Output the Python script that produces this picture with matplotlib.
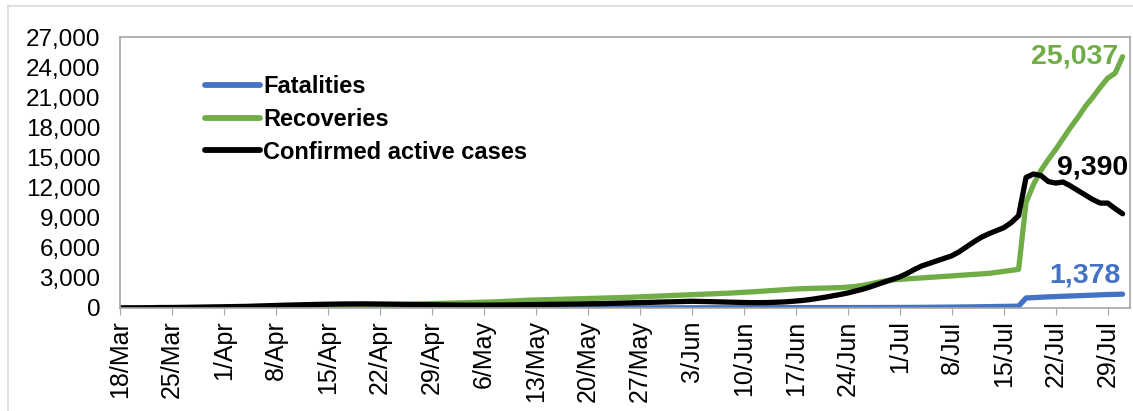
#%%
import matplotlib.pyplot as plt
import numpy as np
from matplotlib.lines import Line2D

plt.rcParams['font.family'] = ['Liberation Sans', 'DejaVu Sans']

#%% Daily values, 18/Mar .. 31/Jul (one row per week)

fatalities = [
    0, 0, 0, 0, 0, 0, 0,
    0, 0, 0, 0, 0, 0, 1,
    1, 1, 1, 3, 3, 4, 4,
    4, 5, 5, 5, 5, 5, 5,
    5, 5, 5, 7, 7, 7, 7,
    7, 7, 7, 7, 8, 8, 8,
    8, 8, 8, 8, 8, 8, 8,
    10, 10, 10, 12, 12, 12, 12,
    12, 12, 13, 14, 14, 14, 14,
    14, 14, 14, 14, 15, 16, 16,
    16, 16, 16, 17, 18, 20, 20,
    20, 21, 22, 23, 24, 25, 26,
    27, 28, 29, 30, 31, 33, 35,
    36, 37, 38, 39, 40, 41, 42,
    43, 44, 45, 46, 47, 48, 49,
    51, 55, 60, 65, 70, 75, 82,
    90, 98, 105, 115, 125, 135, 145,
    155, 165, 180, 1000, 1040, 1080, 1110,
    1140, 1170, 1200, 1230, 1260, 1290, 1310,
    1340, 1360, 1378,
]

recoveries = [
    0, 0, 0, 0, 0, 0, 0,
    0, 0, 0, 0, 3, 3, 3,
    5, 7, 10, 14, 18, 24, 30,
    38, 48, 60, 75, 92, 110, 130,
    150, 170, 190, 210, 230, 250, 270,
    290, 310, 330, 350, 370, 390, 410,
    430, 450, 470, 490, 510, 530, 550,
    570, 600, 630, 660, 700, 740, 780,
    800, 820, 840, 860, 880, 900, 920,
    940, 960, 980, 1000, 1020, 1050, 1080,
    1100, 1130, 1160, 1190, 1220, 1250, 1280,
    1310, 1340, 1370, 1400, 1440, 1480, 1520,
    1560, 1600, 1650, 1700, 1750, 1800, 1850,
    1900, 1930, 1950, 1970, 1990, 2010, 2030,
    2080, 2150, 2250, 2400, 2550, 2700, 2800,
    2850, 2900, 2950, 3000, 3050, 3100, 3150,
    3200, 3250, 3300, 3350, 3400, 3450, 3550,
    3650, 3750, 3850, 10500, 12300, 13700, 14800,
    15800, 16900, 18000, 19000, 20100, 21000, 22000,
    22900, 23400, 25037,
]

active = [
    3, 6, 14, 16, 26, 42, 44,
    44, 58, 64, 80, 90, 105, 107,
    110, 125, 140, 160, 185, 210, 235,
    255, 275, 295, 315, 335, 350, 365,
    380, 390, 400, 405, 410, 410, 405,
    400, 390, 380, 365, 350, 340, 330,
    320, 310, 300, 295, 290, 285, 280,
    280, 285, 290, 300, 310, 320, 330,
    340, 350, 360, 370, 380, 390, 400,
    410, 420, 440, 460, 480, 500, 520,
    540, 560, 580, 600, 620, 640, 660,
    670, 660, 640, 620, 600, 580, 560,
    540, 530, 530, 540, 560, 590, 630,
    690, 760, 850, 960, 1080, 1210, 1350,
    1500, 1680, 1870, 2100, 2350, 2600, 2850,
    3100, 3450, 3850, 4200, 4450, 4700, 4950,
    5200, 5600, 6100, 6600, 7050, 7400, 7700,
    8000, 8500, 9200, 13000, 13350, 13200, 12600,
    12450, 12550, 12150, 11700, 11250, 10800, 10450,
    10450, 9900, 9390,
]

week_labels = ['18/Mar', '25/Mar', '1/Apr', '8/Apr', '15/Apr', '22/Apr', '29/Apr',
               '6/May', '13/May', '20/May', '27/May', '3/Jun', '10/Jun', '17/Jun',
               '24/Jun', '1/Jul', '8/Jul', '15/Jul', '22/Jul', '29/Jul']

series_names = ['Fatalities', 'Recoveries', 'Confirmed active cases']

#%% Figure

c_blue = '#4472C4'
c_green = '#70AD47'
c_black = '#000000'
c_axis = '#A6A6A6'

days = np.arange(len(active))

fig = plt.figure(figsize=(11.33, 4.11), dpi=100)
ax = fig.add_axes([120/1133, 103/411, 1010/1133, 271/411])

lw = 3.8
ax.plot(days, fatalities, color=c_blue, lw=lw, label=series_names[0], solid_capstyle='round')
ax.plot(days, recoveries, color=c_green, lw=lw, label=series_names[1], solid_capstyle='round')
ax.plot(days, active, color=c_black, lw=lw, label=series_names[2], solid_capstyle='round')

ax.set_xlim(0, 136)
ax.set_ylim(0, 27000)

ax.set_xticks(np.arange(0, len(week_labels)*7, 7))
ax.set_xticklabels(week_labels, rotation=90, fontsize=18)
ax.set_yticks(np.arange(0, 27001, 3000))
ax.set_yticklabels([f'{v:,}' for v in range(0, 27001, 3000)], fontsize=17.5)

ax.tick_params(axis='x', length=5, color=c_axis, pad=4)
ax.tick_params(axis='y', length=0, pad=14)
for s in ax.spines.values():
    s.set_color(c_axis)
    s.set_linewidth(1.2)

# end-of-series labels
ax.annotate(f'{recoveries[-1]:,}', (days[-1], recoveries[-1]), xytext=(-4, 0),
            textcoords='offset pixels', ha='right', va='center',
            fontsize=20.5, fontweight='bold', color=c_green)
ax.annotate(f'{active[-1]:,}', (days[-1], active[-1]), xytext=(6, 46),
            textcoords='offset pixels', ha='right', va='center',
            fontsize=20.5, fontweight='bold', color=c_black)
ax.annotate(f'{fatalities[-1]:,}', (days[-1], fatalities[-1]), xytext=(-2, 19),
            textcoords='offset pixels', ha='right', va='center',
            fontsize=20.5, fontweight='bold', color=c_blue)

leg = ax.legend(loc='upper left', bbox_to_anchor=(0.075, 0.895), frameon=False,
                prop={'size': 17, 'weight': 'bold'}, handlelength=2.3,
                handletextpad=0.15, labelspacing=0.42, borderaxespad=0)
for h in leg.get_lines():
    h.set_linewidth(4.2)

# outer chart frame
fig.add_artist(Line2D([8/1133, 8/1133], [0, 1 - 6/411], color='#D9D9D9', lw=1.2))
fig.add_artist(Line2D([8/1133, 1], [1 - 6/411, 1 - 6/411], color='#D9D9D9', lw=1.2))

plt.savefig('out.png', dpi=100)
